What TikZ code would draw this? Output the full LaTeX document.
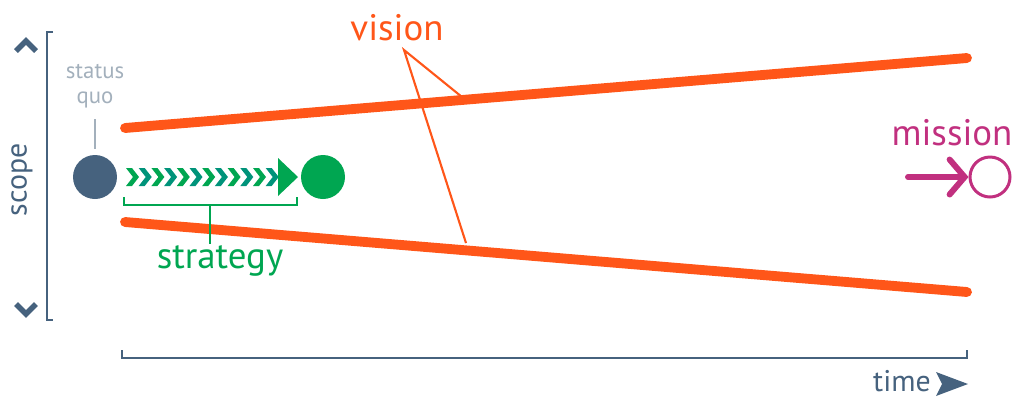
\documentclass[tikz,border=0pt]{standalone}
\usepackage{fontspec}
\setmainfont{PT Sans}
\usetikzlibrary{arrows.meta, positioning}
\definecolor{scopeslate}{HTML}{46627E}
\definecolor{quogray}{HTML}{A3B0BC}
\definecolor{strategygreen}{HTML}{00A651}
\definecolor{strategyteal}{HTML}{00937A}
\definecolor{visionorange}{HTML}{FF5619}
\definecolor{missionpink}{HTML}{C1307F}

\begin{document}
\begin{tikzpicture}[
    x=0.02cm, y=-0.02cm,
    dot/.style={
        circle,
        inner sep=0pt,
        minimum size=0.88cm
    },
    wordlabel/.style={
        inner sep=1pt,
        font=\fontsize{21}{24}\selectfont
    },
    axisline/.style={
        scopeslate,
        line width=1.6pt
    },
    visionband/.style={
        visionorange,
        line width=5.6pt,
        line cap=round
    },
    pointer/.style={
        visionorange,
        line width=1.2pt
    }
]
    \useasboundingbox (0,0) rectangle (1013,397);

    % scope axis
    \draw[axisline] (53,32) -- (47,32) -- (47,320) -- (53,320);
    \draw[scopeslate, line width=3.2pt] (16,51) -- (26,41) -- (36,51);
    \draw[scopeslate, line width=3.2pt] (16,304) -- (26,314) -- (36,304);
    \node[wordlabel, scopeslate, rotate=90, font=\fontsize{17}{19}\selectfont] (scopeLabel) at (22,180) {scope};

    % time axis
    \draw[axisline] (122,350) -- (122,358) -- (967,358) -- (967,350);
    \node[wordlabel, scopeslate, font=\fontsize{17}{19}\selectfont] (timeLabel) at (902,381) {time};
    \fill[scopeslate] (936,372) -- (968,384) -- (936,396) -- (942,384) -- cycle;

    % vision
    \draw[visionband] (125,128) -- (967,58);
    \draw[visionband] (125,222) -- (967,292);
    \node[wordlabel, visionorange] (visionLabel) at (397,28) {vision};
    \coordinate (visionApex) at (404,50);
    \coordinate (visionUpper) at (462,97);
    \coordinate (visionLower) at (466,243);
    \draw[pointer] (visionUpper) -- (visionApex) -- (visionLower);

    % status quo
    \node[dot, fill=scopeslate] (statusQuo) at (95,177) {};
    \node[align=center, quogray, inner sep=1pt, font=\fontsize{13}{14.5}\selectfont] (statusLabel) at (95,86) {status\\quo};
    \draw[quogray, line width=1.2pt, shorten <=5pt, shorten >=3pt] (statusLabel) -- (statusQuo);

    % strategy
    \foreach \i in {0,...,11}{
        \ifodd\i \def\chevcol{strategyteal}\else \def\chevcol{strategygreen}\fi
        \fill[\chevcol] ({126+12.7*\i},168) -- ++(6,0) -- ++(7,9) -- ++(-7,9) -- ++(-6,0) -- ++(7,-9) -- cycle;
    }
    \fill[strategygreen] (278,158) -- (298,177) -- (278,196) -- cycle;
    \node[dot, fill=strategygreen] (strategyGoal) at (323,177) {};
    \draw[strategygreen, line width=1.2pt] (124,197) -- (124,205) -- (297,205) -- (297,197);
    \coordinate (braceMid) at (210,205);
    \node[wordlabel, strategygreen] (strategyLabel) at (220,261) {strategy};
    \draw[strategygreen, line width=1.2pt] (braceMid) -- (braceMid |- strategyLabel.north);

    % mission
    \node[dot, draw=missionpink, line width=1.7pt, minimum size=0.8cm] (missionGoal) at (990,177) {};
    \coordinate (missionTail) at (908,177);
    \draw[missionpink, line width=3.4pt, line cap=round, -{Straight Barb[length=3mm, width=7mm, line cap=round]}] (missionTail) -- (missionGoal.west);
    \node[wordlabel, missionpink] (missionLabel) at (952,133) {mission};
\end{tikzpicture}
\end{document}
